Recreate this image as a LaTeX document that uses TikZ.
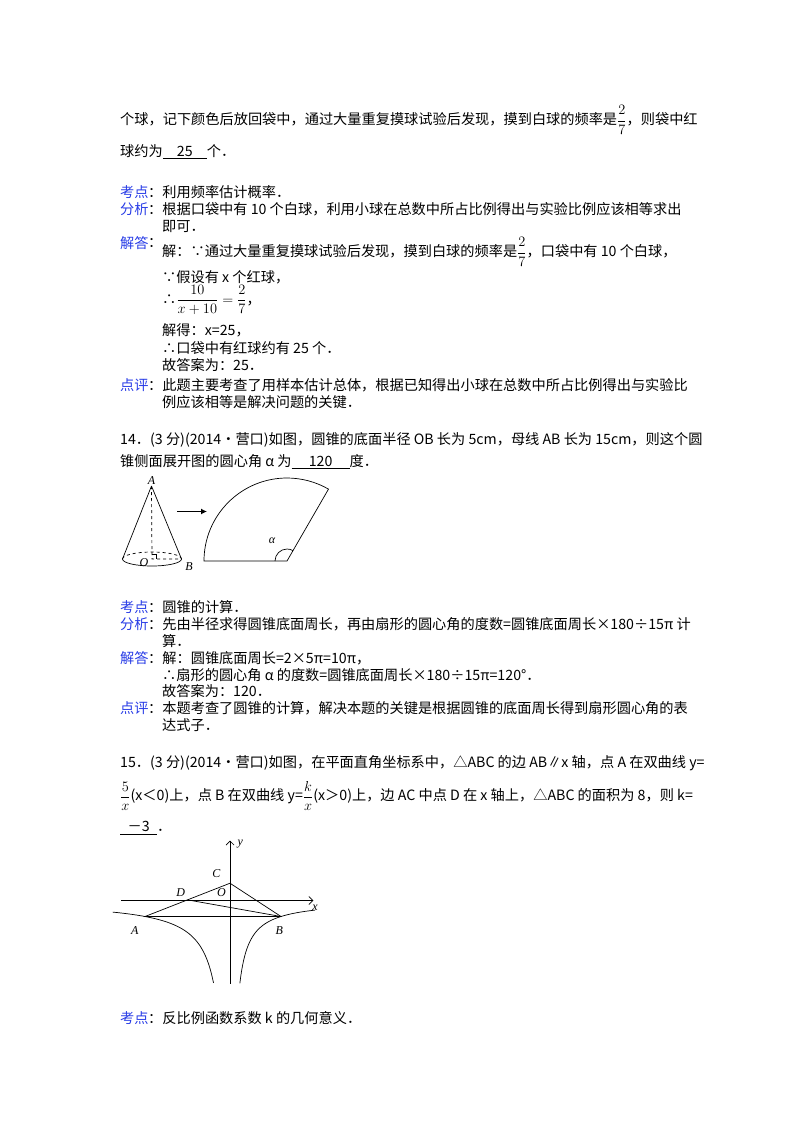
\documentclass[tikz,border=0pt]{standalone}
\usepackage{amsmath}
\usepackage{fontspec}
\setmainfont{Noto Sans CJK SC}
\newfontfamily\labf{Liberation Serif}
\usetikzlibrary{arrows.meta}
\definecolor{lab}{RGB}{40,60,230}
\newcommand{\blankfill}[2]{\underline{\makebox[#1]{#2}}}
\begin{document}
\begin{tikzpicture}[x=1pt,y=-1pt,
  t/.style={anchor=west,inner sep=0pt,font=\fontsize{14.2}{15}\selectfont},
  l/.style={t,text=lab},
  fig/.style={line width=0.7pt},
  lb/.style={inner sep=1pt,font=\fontsize{12}{13}\selectfont\labf\itshape}]
\useasboundingbox (0,0) rectangle (800,1132);
% ---- problem 13 tail
\node[t] (a1) at (120,120) {个球，记下颜色后放回袋中，通过大量重复摸球试验后发现，摸到白球的频率是$\dfrac{2}{7}$，则袋中红};
\node[t] (a2) at (120,152) {球约为\blankfill{44pt}{25}个．};
\node[l] (k1) at (120,192) {考点};\node[t] (k1b) at (148,192) {：利用频率估计概率．};
\node[l] (f1) at (120,209) {分析};\node[t] (f1b) at (148,209) {：根据口袋中有 10 个白球，利用小球在总数中所占比例得出与实验比例应该相等求出};
\node[t] (f1c) at (162,226) {即可．};
\node[l] (j1) at (120,243) {解答};\node[t] (j1a) at (148,243) {：};
\node[t] (j1b) at (162,252) {解：∵通过大量重复摸球试验后发现，摸到白球的频率是$\dfrac{2}{7}$，口袋中有 10 个白球，};
\node[t] (j1c) at (162,277) {∵假设有 x 个红球，};
\node[t] (j1d) at (162,300) {∴$\dfrac{10}{x+10}=\dfrac{2}{7}$，};
\node[t] (j1e) at (162,330) {解得：x=25，};
\node[t] (j1f) at (162,348) {∴口袋中有红球约有 25 个．};
\node[t] (j1g) at (162,365) {故答案为：25．};
\node[l] (d1) at (120,385) {点评};\node[t] (d1b) at (148,385) {：此题主要考查了用样本估计总体，根据已知得出小球在总数中所占比例得出与实验比};
\node[t] (d1c) at (162,402) {例应该相等是解决问题的关键．};
% ---- problem 14
\node[t] (p14) at (120,440) {14．(3 分)(2014•营口)如图，圆锥的底面半径 OB 长为 5cm，母线 AB 长为 15cm，则这个圆};
\node[t] (p14b) at (120,462) {锥侧面展开图的圆心角 α 为\blankfill{58pt}{120}度．};
% cone
\coordinate (A) at (151.5,486);
\coordinate (O) at (152,559);
\coordinate (B) at (181.5,559);
\coordinate (L) at (122.5,559);
\draw[fig] (A) -- (L) (A) -- (B);
\draw[fig,dashed] (A) -- (O) -- (B);
\draw[fig] (L) arc[start angle=180,end angle=0,x radius=29.5,y radius=7];
\draw[fig,dashed] (L) arc[start angle=180,end angle=360,x radius=29.5,y radius=7];
\draw[line width=0.5pt] (152,554) -- (156,554) -- (156,559);
\node[lb,above] (nA) at (A) {A};
\node[lb] (nO) at (144,563) {O};
\node[lb] (nB) at (189,567) {B};
% arrow
\coordinate (r1) at (177,511.5);
\coordinate (r2) at (207,511.5);
\draw[line width=1.4pt,-{Latex[length=6pt,width=6pt]}] (r1) -- (r2);
% sector
\coordinate (V) at (287,561);
\draw[fig] (V) -- ++(-83,0) arc[start angle=180,end angle=300,radius=83] -- cycle;
\draw[fig] (V) ++(-12,0) arc[start angle=180,end angle=300,radius=12];
\node[lb] (al) at (272,541) {α};
% analysis 14
\node[l] (k2) at (120,607) {考点};\node[t] (k2b) at (148,607) {：圆锥的计算．};
\node[l] (f2) at (120,624) {分析};\node[t] (f2b) at (148,624) {：先由半径求得圆锥底面周长，再由扇形的圆心角的度数=圆锥底面周长×180÷15π 计};
\node[t] (f2c) at (162,641) {算．};
\node[l] (j2) at (120,658) {解答};\node[t] (j2b) at (148,658) {：解：圆锥底面周长=2×5π=10π，};
\node[t] (j2c) at (162,675) {∴扇形的圆心角 α 的度数=圆锥底面周长×180÷15π=120°．};
\node[t] (j2d) at (162,691) {故答案为：120．};
\node[l] (d2) at (120,708) {点评};\node[t] (d2b) at (148,708) {：本题考查了圆锥的计算，解决本题的关键是根据圆锥的底面周长得到扇形圆心角的表};
\node[t] (d2c) at (162,725) {达式子．};
% ---- problem 15
\node[t] (p15) at (120,763) {15．(3 分)(2014•营口)如图，在平面直角坐标系中，△ABC 的边 AB∥x 轴，点 A 在双曲线 y=};
\node[t] (p15b) at (120,796) {$\dfrac{5}{x}$(x＜0)上，点 B 在双曲线 y=$\dfrac{k}{x}$(x＞0)上，边 AC 中点 D 在 x 轴上，△ABC 的面积为 8，则 k=};
\node[t] (p15c) at (120,828) {\blankfill{37pt}{－3}．};
% hyperbola figure
\begin{scope}[shift={(230,900.5)},x=17pt,y=16pt]
\coordinate (xs) at (-6.4,0); \coordinate (xe) at (4.9,0);
\coordinate (ys) at (0,-5.2); \coordinate (ye) at (0,3.75);
\draw[fig,-{Straight Barb[length=4pt]}] (xs) -- (xe);
\draw[fig,-{Straight Barb[length=4pt]}] (ys) -- (ye);
\draw[fig,domain=-6.9:-0.97,samples=80,smooth] plot (\x,{5/\x});
\draw[fig,domain=0.58:5,samples=80,smooth] plot (\x,{-3/\x});
\coordinate (hA) at (-5,-1); \coordinate (hB) at (3,-1);
\coordinate (hC) at (0,1.08); \coordinate (hD) at (-2.5,0.04);
\draw[fig] (hA) -- (hB) -- (hC) -- cycle;
\draw[fig] (hD) -- (hB);
\node[lb] (nhA) at (-5.6,-1.9) {A};
\node[lb] (nhB) at (2.9,-1.9) {B};
\node[lb] (nhC) at (-0.8,1.7) {C};
\node[lb] (nhD) at (-2.9,0.5) {D};
\node[lb] (nhO) at (-0.5,0.5) {O};
\node[lb] (nhx) at (5.0,-0.45) {x};
\node[lb] (nhy) at (0.6,3.5) {y};
\end{scope}
\node[l] (k3) at (120,1018) {考点};\node[t] (k3b) at (148,1018) {：反比例函数系数 k 的几何意义．};
\end{tikzpicture}
\end{document}
